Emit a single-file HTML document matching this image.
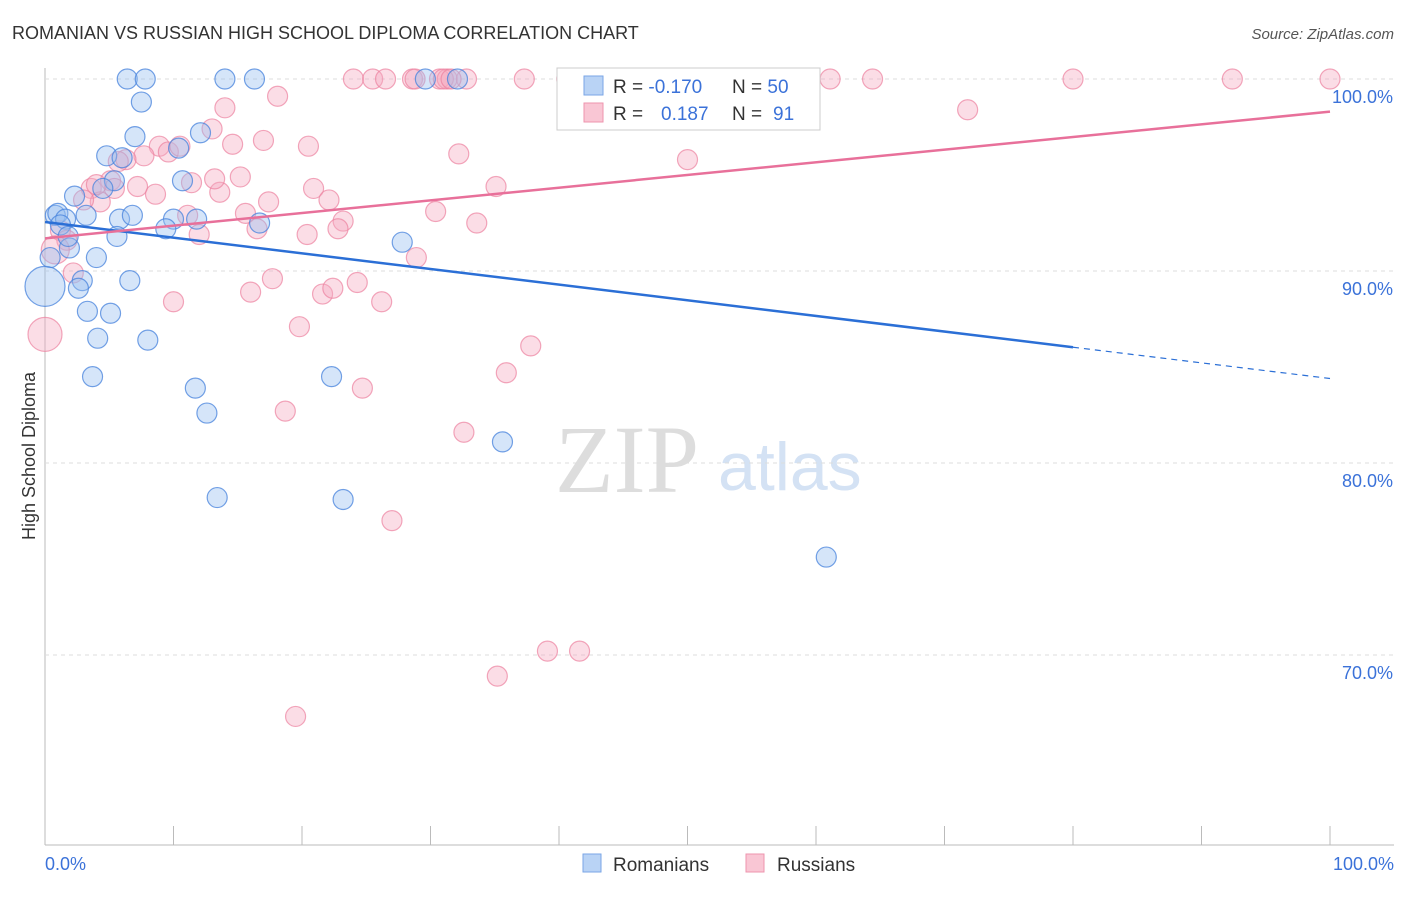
<!DOCTYPE html>
<html><head><meta charset="utf-8"><style>
body{margin:0;background:#fff;font-family:"Liberation Sans",sans-serif}
</style></head><body>
<svg id="c" width="1406" height="892" xmlns="http://www.w3.org/2000/svg">
<text x="12" y="39" font-size="18" fill="#333">ROMANIAN VS RUSSIAN HIGH SCHOOL DIPLOMA CORRELATION CHART</text>
<text x="1394" y="39" font-size="15" fill="#555" font-style="italic" text-anchor="end">Source: ZipAtlas.com</text>
<text x="35" y="456" font-size="18" fill="#333" text-anchor="middle" transform="rotate(-90 35 456)">High School Diploma</text>
<text x="555" y="492" font-size="96" fill="#ddd" font-family="Liberation Serif">ZIP</text>
<text x="718" y="490" font-size="68" fill="#d4e2f4">atlas</text>
<g id="grid"></g><g id="pts"></g><g id="lines"></g>
<g>
<rect x="557" y="68" width="263" height="62" fill="#fff" stroke="#ccc"/>
<rect x="584" y="76" width="19" height="19" fill="#b9d3f5" stroke="#7aa6e6"/>
<rect x="584" y="103" width="19" height="19" fill="#f9c6d4" stroke="#ee94ae"/>
<text x="613" y="93" font-size="19" fill="#333">R = <tspan fill="#3b72d9">-0.170</tspan></text>
<text x="732" y="93" font-size="19" fill="#333">N = <tspan fill="#3b72d9">50</tspan></text>
<text x="613" y="120" font-size="19" fill="#333">R = <tspan fill="#3b72d9" x="661">0.187</tspan></text>
<text x="732" y="120" font-size="19" fill="#333">N = <tspan fill="#3b72d9" x="773">91</tspan></text>
</g>
<g>
<rect x="583" y="854" width="18" height="18" fill="#b9d3f5" stroke="#7aa6e6"/>
<text x="613" y="871" font-size="19" fill="#333">Romanians</text>
<rect x="746" y="854" width="18" height="18" fill="#f9c6d4" stroke="#ee94ae"/>
<text x="777" y="871" font-size="19" fill="#333">Russians</text>
</g>
</svg>
<script>
const blueX=[6.4,7.8,14.0,16.3,29.6,32.1,7.5,4.8,7.0,6.0,5.4,4.5,2.3,10.7,10.4,12.1,0.8,1.0,1.6,3.2,5.8,6.8,10.0,11.8,9.4,5.6,16.7,27.8,1.9,0.4,4.0,2.9,6.6,2.6,3.3,5.1,4.1,8.0,3.7,11.7,22.3,12.6,35.6,13.4,23.2,60.8,1.2,1.8,0];
const blueY=[100,100,100,100,100,100,98.8,96.0,97.0,95.9,94.7,94.3,93.9,94.7,96.4,97.2,92.9,93.0,92.7,92.9,92.7,92.9,92.7,92.7,92.2,91.8,92.5,91.5,91.2,90.7,90.7,89.5,89.5,89.1,87.9,87.8,86.5,86.4,84.5,83.9,84.5,82.6,81.1,78.2,78.1,75.1,92.4,91.8,89.2];
const blueR=[10,10,10,10,10,10,10,10,10,10,10,10,10,10,10,10,10,10,10,10,10,10,10,10,10,10,10,10,10,10,10,10,10,10,10,10,10,10,10,10,10,10,10,10,10,10,10,10,20];
const pinkX=[24.0,25.5,26.5,28.6,30.7,31.3,32.8,37.3,40.6,47.1,51.4,61.1,64.4,80.0,92.4,100,28.8,31.0,31.6,59.4,
71.8,18.1,14.0,13.0,17.0,14.6,8.9,7.7,9.6,10.5,20.5,6.3,32.2,50.0,15.2,11.4,5.1,13.6,7.2,8.6,3.6,4.3,5.4,17.4,20.9,22.1,35.1,15.6,11.1,23.2,12.0,16.5,20.4,22.8,30.4,33.6,1.2,1.7,2.2,28.9,17.7,16.0,10.0,24.3,26.2,21.6,22.4,19.8,37.8,35.9,24.7,18.7,32.6,27.0,39.1,41.6,35.2,19.5,0,0.8,3.0,5.7,4.0,13.2];
const pinkY=[100,100,100,100,100,100,100,100,100,100,100,100,100,100,100,100,100,100,100,100,
98.4,99.1,98.5,97.4,96.8,96.6,96.5,96.0,96.2,96.5,96.5,95.8,96.1,95.8,94.9,94.6,94.7,94.1,94.4,94.0,94.3,93.6,94.3,93.6,94.3,93.7,94.4,93.0,92.9,92.6,91.9,92.2,91.9,92.2,93.1,92.5,92.1,91.6,89.9,90.7,89.6,88.9,88.4,89.4,88.4,88.8,89.1,87.1,86.1,84.7,83.9,82.7,81.6,77.0,70.2,70.2,68.9,66.8,86.7,91.1,93.7,95.7,94.5,94.8];
const pinkR=[];
for(let i=0;i<pinkX.length;i++)pinkR.push(10);
pinkR[78]=17;pinkR[79]=14;
const xTicks=[0,10,20,30,40,50,60,70,80,90,100];
const yTicks=[100,90,80,70];
const blueLine=[92.55,84.4], pinkLine=[91.7,98.3];
const X=v=>45+v*12.85, Y=v=>79+(100-v)*19.2;
const NS="http://www.w3.org/2000/svg";
function mk(t,a,p){const e=document.createElementNS(NS,t);for(const k in a)e.setAttribute(k,a[k]);p.appendChild(e);return e;}
const svg=document.getElementById('c'),grid=document.getElementById('grid'),pts=document.getElementById('pts'),lines=document.getElementById('lines');
mk('line',{x1:45,y1:68,x2:45,y2:845,stroke:'#bbb'},grid);
mk('line',{x1:45,y1:845,x2:1394,y2:845,stroke:'#bbb'},grid);
yTicks.forEach(v=>{
 const l=mk('line',{x1:45,y1:Y(v),x2:1394,y2:Y(v),stroke:'#ddd','stroke-dasharray':'4,4'},grid);
 
 
 const t=mk('text',{x:1393,y:Y(v)+24,'font-size':18,fill:'#3b72d9','text-anchor':'end'},grid);
 t.textContent=v.toFixed(1)+'%';
 
 
});
xTicks.forEach(v=>{
 const l=mk('line',{x1:X(v),y1:826,x2:X(v),y2:845,stroke:'#bbb'},grid);
 
 
});
[[0,'0.0%','start',45],[100,'100.0%','end',1394]].forEach(d=>{
 const t=mk('text',{x:d[3],y:870,'font-size':18,fill:'#3b72d9','text-anchor':d[2]},grid);
 t.textContent=d[1];
 
 
});
pinkX.forEach((v,i)=>{
 const c=mk('circle',{cx:X(v),cy:Y(pinkY[i]),r:pinkR[i],fill:'rgba(246,170,192,0.4)',stroke:'rgba(236,130,160,0.7)','stroke-width':1.2},pts);
 
 
});
blueX.forEach((v,i)=>{
 const c=mk('circle',{cx:X(v),cy:Y(blueY[i]),r:blueR[i],fill:'rgba(150,190,240,0.4)',stroke:'rgba(70,130,220,0.75)','stroke-width':1.2},pts);
 
 
});
const by=x=>blueLine[0]+(blueLine[1]-blueLine[0])*x/100;
let l1=mk('line',{x1:X(0),y1:Y(by(0)),x2:X(80),y2:Y(by(80)),stroke:'#2b6fd6','stroke-width':2.5},lines);


let l2=mk('line',{x1:X(80),y1:Y(by(80)),x2:X(100),y2:Y(by(100)),stroke:'#2b6fd6','stroke-width':1.2,'stroke-dasharray':'6,5'},lines);


let l3=mk('line',{x1:X(0),y1:Y(pinkLine[0]),x2:X(100),y2:Y(pinkLine[1]),stroke:'#e8709a','stroke-width':2.5},lines);


</script>
</body></html>
